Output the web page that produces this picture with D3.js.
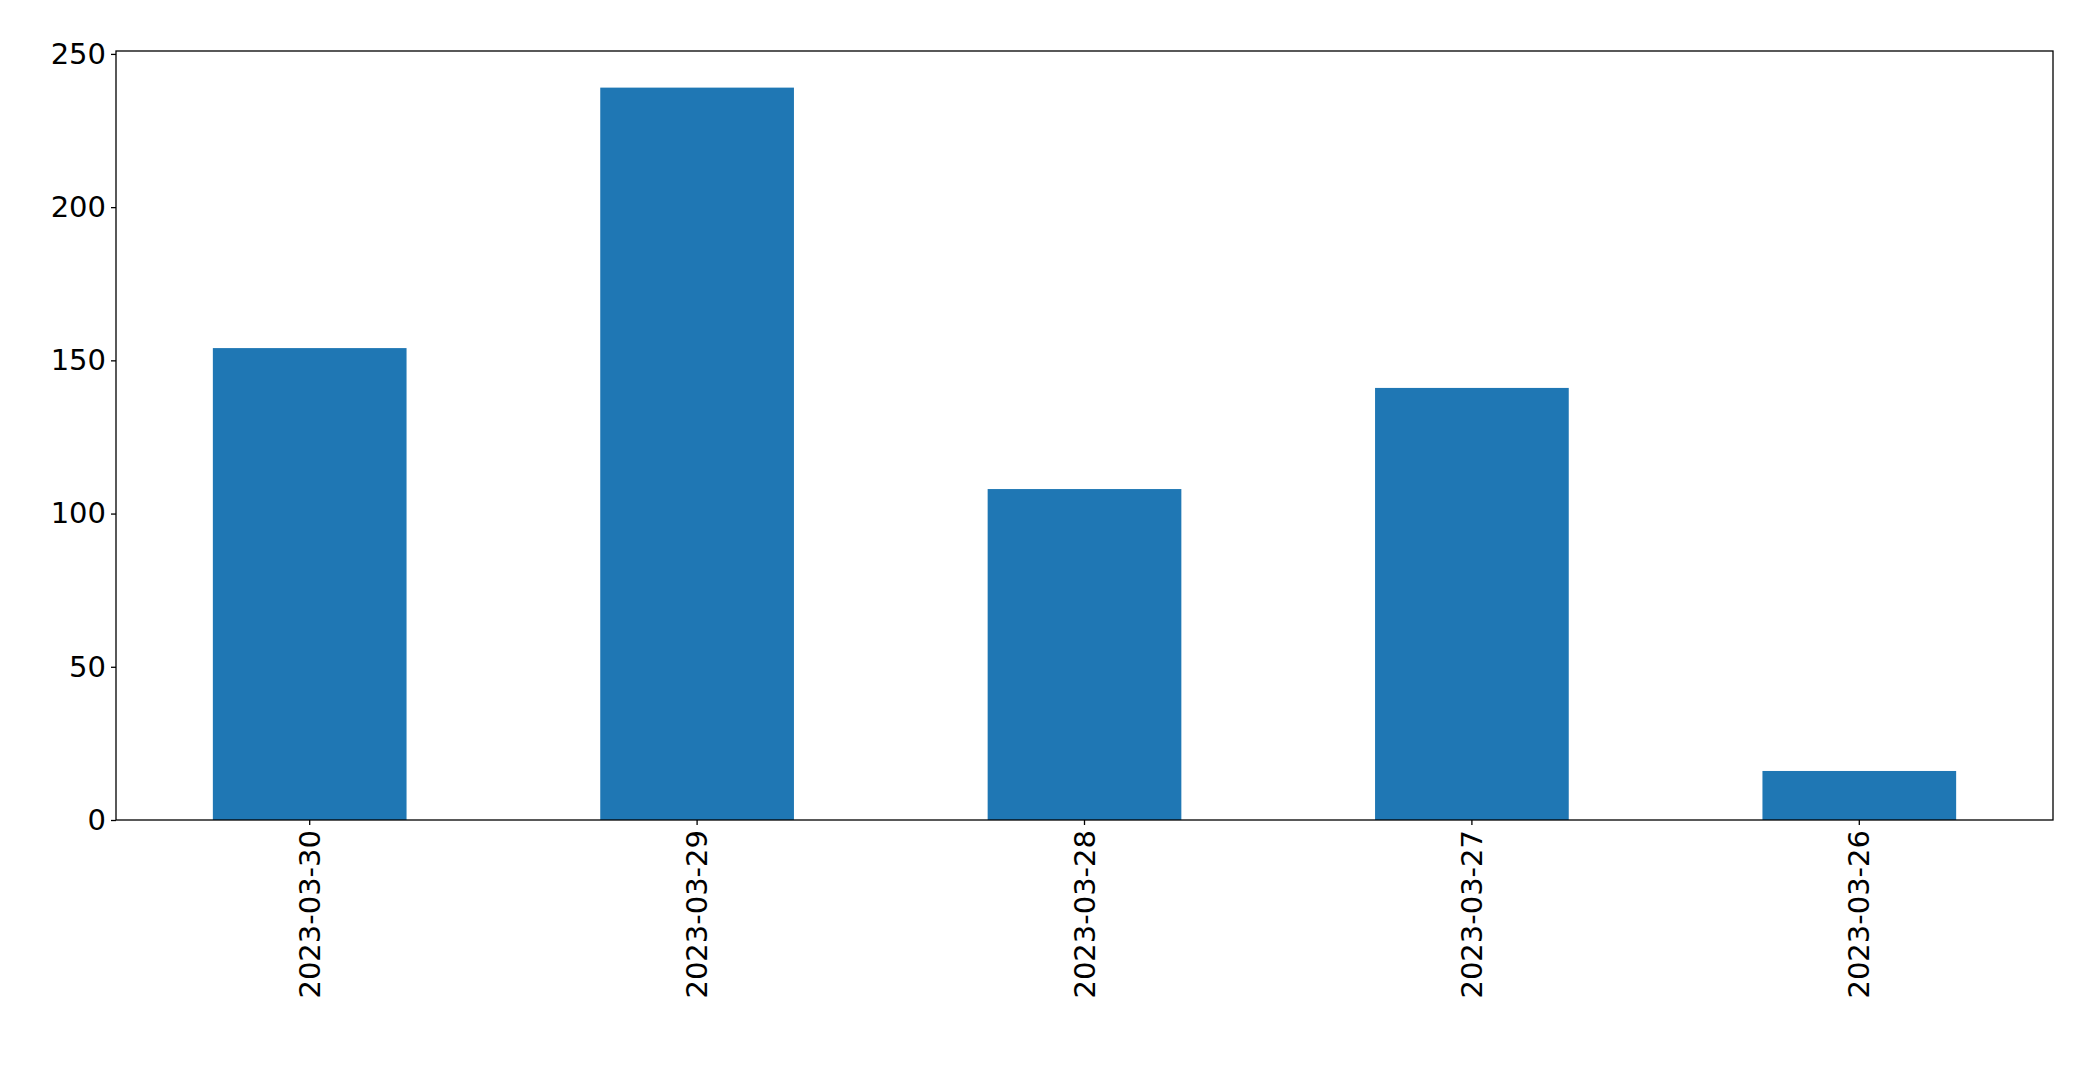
<!DOCTYPE html>
<html><head><meta charset="utf-8">
<script src="https://cdn.jsdelivr.net/npm/d3@7"></script>
<style>body{margin:0;background:#fff}text{font-family:"DejaVu Sans";}</style>
</head><body><div id="chart"></div>
<script>
const dates = ["2023-03-30","2023-03-29","2023-03-28","2023-03-27","2023-03-26"];
const counts = [154, 239, 108, 141, 16];
const yTicks = [0, 50, 100, 150, 200, 250];

const margin = { top: 51, right: 40, bottom: 252, left: 116 };
const width = 2093 - margin.left - margin.right;
const height = 1072 - margin.top - margin.bottom;

const x = d3.scaleBand().domain(dates).range([0, width]).paddingInner(0.5).paddingOuter(0.25);
const y = d3.scaleLinear().domain([0, d3.max(counts) * 1.05]).range([height, 0]);

const svg = d3.select("#chart").append("svg")
    .attr("width", 2093).attr("height", 1072)
  .append("g")
    .attr("transform", `translate(${margin.left},${margin.top})`);

svg.selectAll("rect.bar").data(dates).join("rect")
    .attr("class", "bar")
    .attr("x", d => x(d))
    .attr("width", x.bandwidth())
    .attr("y", (d, i) => y(counts[i]))
    .attr("height", (d, i) => height - y(counts[i]))
    .attr("fill", "#1f77b4");

svg.append("rect").attr("width", width).attr("height", height)
    .attr("fill", "none").attr("stroke", "#000").attr("stroke-width", 1.3);

const yAxis = svg.append("g").call(d3.axisLeft(y).tickValues(yTicks).tickSize(5).tickPadding(5));
const xAxis = svg.append("g").attr("transform", `translate(0,${height})`)
    .call(d3.axisBottom(x).tickSize(5).tickPadding(6));
[xAxis, yAxis].forEach(a => {
  a.select(".domain").remove();
  a.selectAll("text").attr("font-size", 29).attr("fill", "#000").attr("font-family", "DejaVu Sans");
  a.selectAll("line").attr("stroke", "#000").attr("stroke-width", 1.3);
});
xAxis.selectAll("text")
    .attr("transform", "rotate(-90)")
    .attr("text-anchor", "end")
    .attr("dy", "0.35em")
    .attr("x", -10)
    .attr("y", 0);
</script></body></html>
